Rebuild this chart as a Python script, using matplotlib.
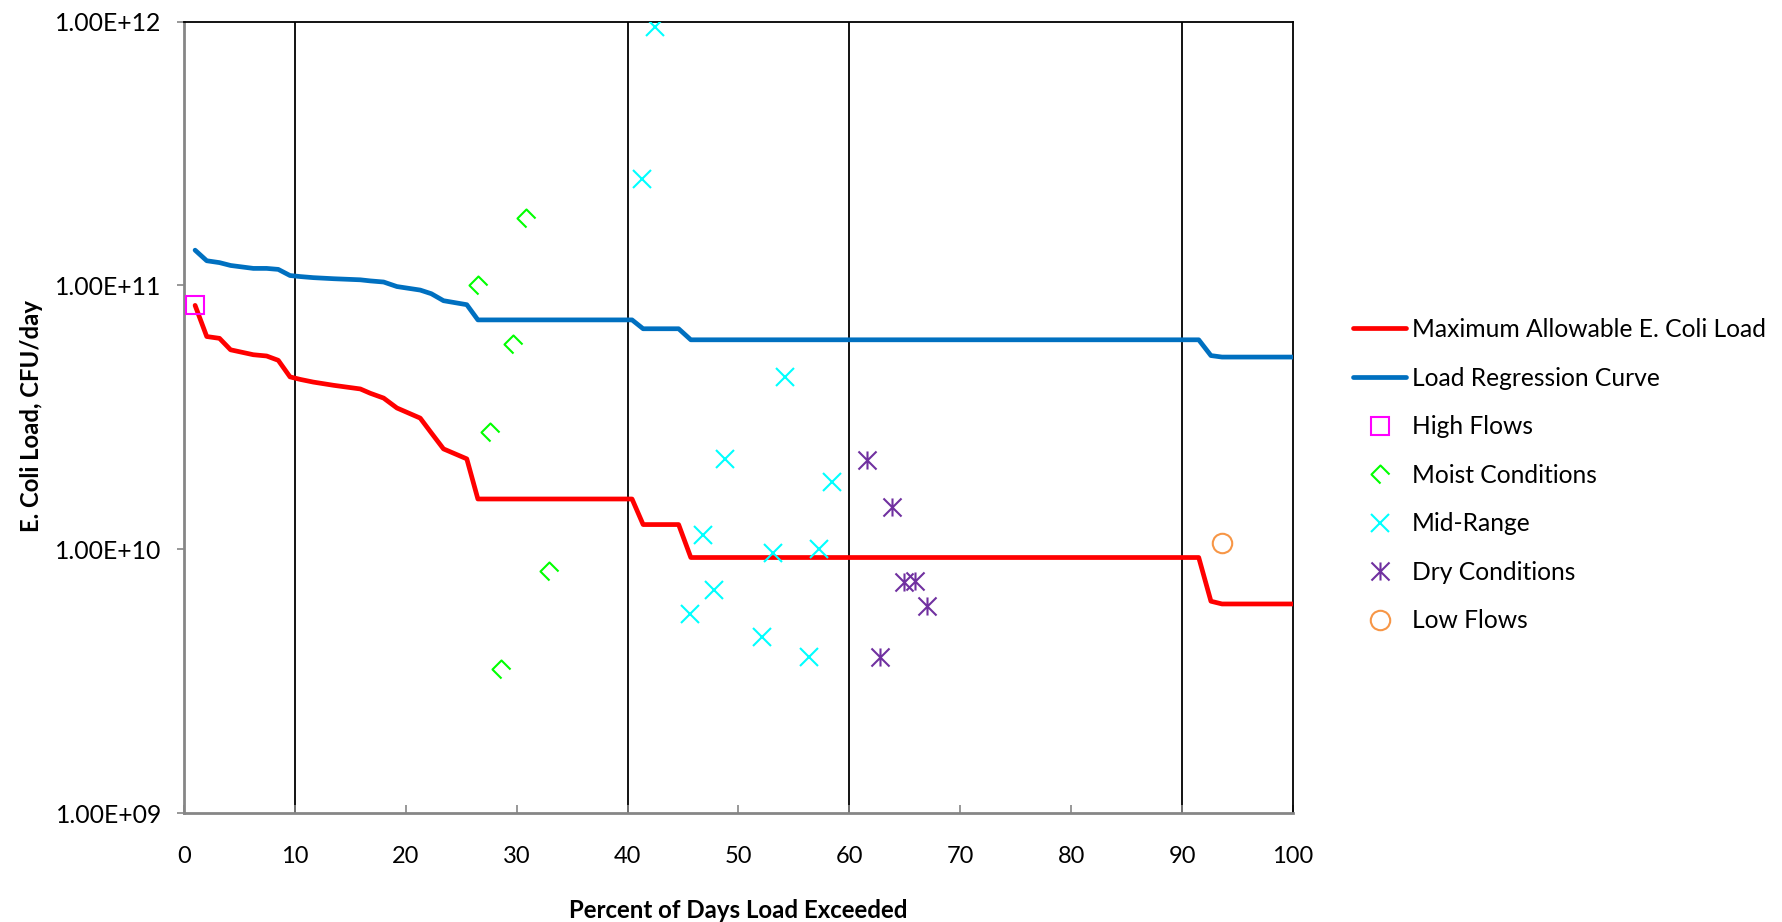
import matplotlib
matplotlib.use("Agg")
import matplotlib.pyplot as plt
from matplotlib.path import Path
from matplotlib.ticker import FixedLocator, FuncFormatter, NullLocator

# load duration curves (percent of days exceeded vs CFU/day)
pct_curve = [1.0, 2.05, 3.2, 4.2, 6.25, 7.45, 8.5, 9.56, 10.5, 11.66, 13.5, 15.9,
             16.8, 18.0, 19.2, 21.3, 22.3, 23.4, 25.5, 26.5, 40.4, 41.4, 44.6,
             45.7, 91.5, 92.6, 93.6, 100.0]
max_allowable = [8.4e10, 6.4e10, 6.3e10, 5.7e10, 5.46e10, 5.4e10, 5.2e10, 4.5e10,
                 4.4e10, 4.3e10, 4.18e10, 4.05e10, 3.9e10, 3.74e10, 3.43e10,
                 3.14e10, 2.76e10, 2.4e10, 2.2e10, 1.55e10, 1.55e10, 1.24e10,
                 1.24e10, 9.3e9, 9.3e9, 6.35e9, 6.2e9, 6.2e9]
regression = [1.36e11, 1.24e11, 1.22e11, 1.19e11, 1.16e11, 1.16e11, 1.15e11,
              1.09e11, 1.08e11, 1.07e11, 1.06e11, 1.05e11, 1.04e11, 1.03e11,
              9.9e10, 9.6e10, 9.3e10, 8.75e10, 8.45e10, 7.4e10, 7.4e10, 6.85e10,
              6.85e10, 6.22e10, 6.22e10, 5.42e10, 5.35e10, 5.35e10]

# observed loads by flow regime
high_x = [1.0]
high_y = [8.4e10]
moist_x = [30.8, 26.5, 29.7, 27.6, 32.9, 28.6]
moist_y = [1.8e11, 1.0e11, 6.0e10, 2.78e10, 8.3e9, 3.5e9]
mid_x = [42.5, 41.3, 54.2, 48.8, 58.4, 46.8, 53.1, 57.3, 47.8, 45.6, 52.1, 56.4]
mid_y = [9.5e11, 2.54e11, 4.5e10, 2.19e10, 1.8e10, 1.13e10, 9.7e9, 1.0e10,
         7.0e9, 5.7e9, 4.65e9, 3.9e9]
dry_x = [61.6, 63.8, 64.9, 65.9, 67.0, 62.8]
dry_y = [2.17e10, 1.44e10, 7.5e9, 7.6e9, 6.1e9, 3.9e9]
low_x = [93.6]
low_y = [1.06e10]

regime_breaks = [10, 40, 60, 90]

# open diamond missing its lower-right edge
chevron = Path([(0, -1), (-1, 0), (0, 1), (1, 0)],
               [Path.MOVETO, Path.LINETO, Path.LINETO, Path.LINETO])
# X with a vertical bar through it
star = Path([(-1, -1), (1, 1), (-1, 1), (1, -1), (0, -1), (0, 1)],
            [Path.MOVETO, Path.LINETO, Path.MOVETO, Path.LINETO, Path.MOVETO, Path.LINETO])

W, H = 1783, 922
fig = plt.figure(figsize=(W / 100, H / 100), dpi=100)
ax = fig.add_axes([184 / W, 1 - 813 / H, (1293 - 184) / W, (813 - 21.6) / H])

for xb in regime_breaks:
    ax.axvline(xb, color="black", lw=1.3, zorder=1)

ax.plot(pct_curve, max_allowable, color="#FF0000", lw=3.4, solid_joinstyle="round",
        solid_capstyle="round", label="Maximum Allowable E. Coli Load", zorder=3)
ax.plot(pct_curve, regression, color="#0070C0", lw=3.4, solid_joinstyle="round",
        solid_capstyle="round", label="Load Regression Curve", zorder=3)

mk = dict(linestyle="none", mfc="none", mew=1.5, zorder=4)
ax.plot(high_x, high_y, marker="s", ms=13, mec="#FF00FF", label="High Flows", **mk)
ax.plot(moist_x, moist_y, marker=chevron, ms=13, mec="#00FF00", label="Moist Conditions", **mk)
ax.plot(mid_x, mid_y, marker="x", ms=13, mec="#00FFFF", label="Mid-Range", **mk)
ax.plot(dry_x, dry_y, marker=star, ms=13, mec="#7030A0", label="Dry Conditions", **mk)
ax.plot(low_x, low_y, marker="o", ms=14, mec="#F79646", label="Low Flows", **mk)

ax.set_yscale("log")
ax.set_xlim(0, 100)
ax.set_ylim(1e9, 1e12)
ax.xaxis.set_major_locator(FixedLocator(range(0, 101, 10)))
ax.yaxis.set_major_locator(FixedLocator([1e9, 1e10, 1e11, 1e12]))
ax.yaxis.set_minor_locator(NullLocator())
ax.yaxis.set_major_formatter(FuncFormatter(lambda v, p: f"{v:.2E}"))

ax.tick_params(axis="x", direction="in", length=6, width=1.2, color="#868686",
               pad=24, labelsize=17)
ax.tick_params(axis="y", direction="out", length=5, width=1.2, color="#868686",
               pad=11, labelsize=17.8)
for lab in ax.get_xticklabels():
    lab.set_family("Lato")
for lab in ax.get_yticklabels():
    lab.set_family(["Liberation Sans Narrow", "Lato"])

for side in ("left", "bottom"):
    ax.spines[side].set_color("#868686")
    ax.spines[side].set_linewidth(2)
for side in ("top", "right"):
    ax.spines[side].set_color("black")
    ax.spines[side].set_linewidth(1.3)

fig.text(0.5 * (184 + 1293) / W, 1 - 910 / H, "Percent of Days Load Exceeded",
         ha="center", va="center", family="Lato", weight="bold", fontsize=17.3)
fig.text(32 / W, 1 - 416 / H, "E. Coli Load, CFU/day", rotation=90,
         ha="center", va="center", family="Lato", weight="bold", fontsize=17.2)

fig.legend(loc="upper left", bbox_to_anchor=(1353 / W, 1 - 318 / H), frameon=False,
           prop=dict(family="Lato", size=17.7), handlelength=2.17, handletextpad=0.23,
           labelspacing=1.04, borderaxespad=0, borderpad=0)

fig.savefig("out.png", dpi=100)
